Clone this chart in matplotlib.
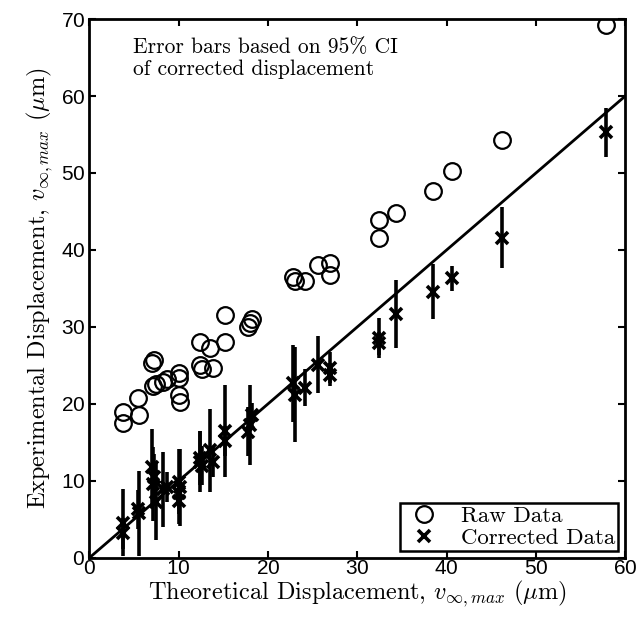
import matplotlib
matplotlib.use('Agg')
import matplotlib.pyplot as plt

plt.rcParams['mathtext.fontset'] = 'cm'
plt.rcParams['axes.formatter.use_mathtext'] = True

# theoretical displacement (um) and raw measured displacement
raw_x = [3.8, 3.8, 5.6, 5.5, 7.0, 7.2, 7.1, 7.5, 8.3, 8.7, 10.0, 10.1, 10.1, 10.2,
         12.4, 13.5, 12.4, 12.6, 13.8, 15.2, 15.2, 17.8, 18.0, 18.2,
         22.8, 23.0, 24.2, 25.6, 27.0, 27.0, 32.4, 32.4, 34.3, 38.5, 40.6, 46.2, 57.8]
raw_y = [17.5, 19.0, 18.6, 20.8, 25.3, 25.7, 22.3, 22.6, 22.9, 23.2, 24.0, 23.4, 21.2, 20.3,
         28.0, 27.3, 25.1, 24.6, 24.7, 31.6, 28.1, 30.0, 30.5, 31.0,
         36.5, 36.0, 36.0, 38.0, 38.3, 36.7, 43.9, 41.6, 44.8, 47.6, 50.2, 54.3, 69.2]

# corrected displacement and 95% CI half width
cor_y = [4.6, 3.2, 5.8, 6.3, 11.8, 10.5, 9.6, 7.3, 8.9, 9.2, 9.9, 8.4, 7.4, 9.2,
         13.0, 14.0, 12.5, 12.0, 12.5, 16.5, 15.2, 16.4, 17.3, 18.6,
         22.7, 21.2, 22.1, 25.1, 24.7, 23.8, 28.6, 27.9, 31.7, 34.6, 36.3, 41.6, 55.3]
cor_err = [4.4, 2.0, 5.5, 2.5, 5.0, 3.0, 4.8, 5.0, 4.9, 2.0, 4.2, 2.0, 3.0, 5.0,
           3.5, 5.4, 4.0, 2.5, 2.0, 6.0, 2.0, 3.2, 5.2, 1.5,
           5.0, 6.2, 2.4, 3.7, 2.0, 1.5, 2.6, 1.5, 4.4, 3.6, 1.6, 4.0, 3.2]

fig = plt.figure(figsize=(6.42, 6.34), dpi=100)
ax = fig.add_axes([0.139, 0.12, 0.835, 0.85])

ax.plot([0, 60], [0, 60], 'k-', lw=2)
ax.plot(raw_x, raw_y, 'o', mfc='none', mec='k', ms=12, mew=1.6, label='Raw Data')
ax.errorbar(raw_x, cor_y, yerr=cor_err, fmt='none', ecolor='k', elinewidth=2.6, capsize=0)
ax.plot(raw_x, cor_y, 'x', color='k', ms=9, mew=2.6, label='Corrected Data')

ax.set_xlim(0, 60)
ax.set_ylim(0, 70)
ax.set_xticks(range(0, 61, 10))
ax.set_yticks(range(0, 71, 10))
ax.tick_params(direction='in', length=5, width=1.5, top=True, right=True, labelsize=15)
ax.tick_params(axis='x', pad=1)
ax.tick_params(axis='y', pad=3)
for lab in ax.get_xticklabels() + ax.get_yticklabels():
    lab.set_family('Liberation Sans')
for s in ax.spines.values():
    s.set_linewidth(2)

ax.set_xlabel(r'Theoretical Displacement, $v_{\infty,max}$ ($\mu$m)', family='cmr10', fontsize=17.5, labelpad=0)
ax.set_ylabel(r'Experimental Displacement, $v_{\infty,max}$ ($\mu$m)', family='cmr10', fontsize=17.5, labelpad=4)
ax.text(4.9, 67.6, 'Error bars based on 95% CI\nof corrected displacement', family='cmr10',
        fontsize=15.5, va='top', linespacing=1.15)

leg = ax.legend(loc='lower right', prop={'family': 'cmr10', 'size': 16.5}, fancybox=False,
                edgecolor='k', framealpha=1, borderpad=0.15, handletextpad=0.7, labelspacing=0.05,
                handlelength=1.8, borderaxespad=0.3)
leg.get_frame().set_linewidth(1.8)

plt.savefig('out.png', dpi=100)
